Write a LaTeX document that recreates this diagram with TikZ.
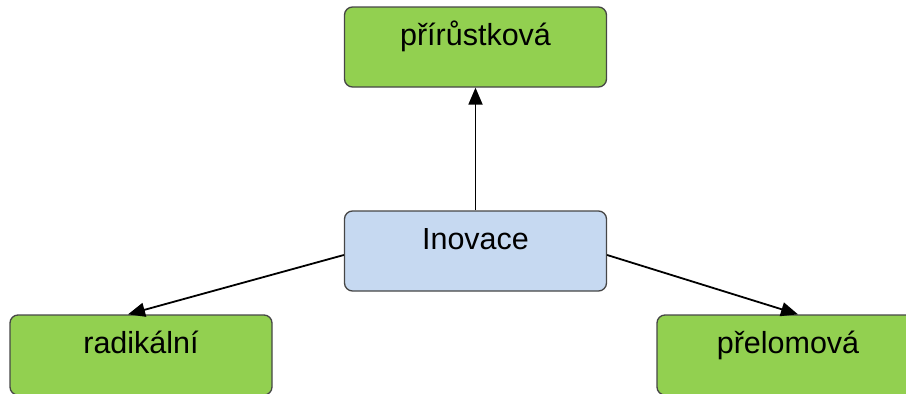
\documentclass[tikz,border=0pt]{standalone}
\usepackage{fontspec}
\setmainfont{Liberation Sans}
\usetikzlibrary{arrows.meta}
\definecolor{boxgreen}{RGB}{146,208,80}
\definecolor{boxblue}{RGB}{198,217,241}
\definecolor{boxline}{RGB}{70,70,70}
\tikzset{
  box/.style={draw=boxline, line width=1.3pt, rounded corners=8pt,
    minimum width=262pt, minimum height=80pt, inner sep=0pt,
    text height=24pt, text depth=28pt,
    font=\fontsize{30.5}{36}\selectfont},
  greenbox/.style={box, fill=boxgreen},
  bluebox/.style={box, fill=boxblue},
  link/.style={line width=1.8pt, -{Triangle[length=17pt,width=14pt]}}
}
\begin{document}
\begin{tikzpicture}[x=1pt, y=-1pt]
  \useasboundingbox (0,0) rectangle (906,394);
  \clip (0,0) rectangle (906,394);
  \node[greenbox] (inc) at (475.5,47) {přírůstková};
  \node[bluebox] (inov) at (475.5,251) {Inovace};
  \node[greenbox] (rad) at (141,355) {radikální};
  \node[greenbox] (brk) at (788,355) {přelomová};
  \draw[link] (inov.north) -- (inc.south);
  \draw[link] ([yshift=-4pt]inov.west) -- ([xshift=-13pt]rad.north);
  \draw[link] ([yshift=-4pt]inov.east) -- ([xshift=10pt]brk.north);
\end{tikzpicture}
\end{document}
